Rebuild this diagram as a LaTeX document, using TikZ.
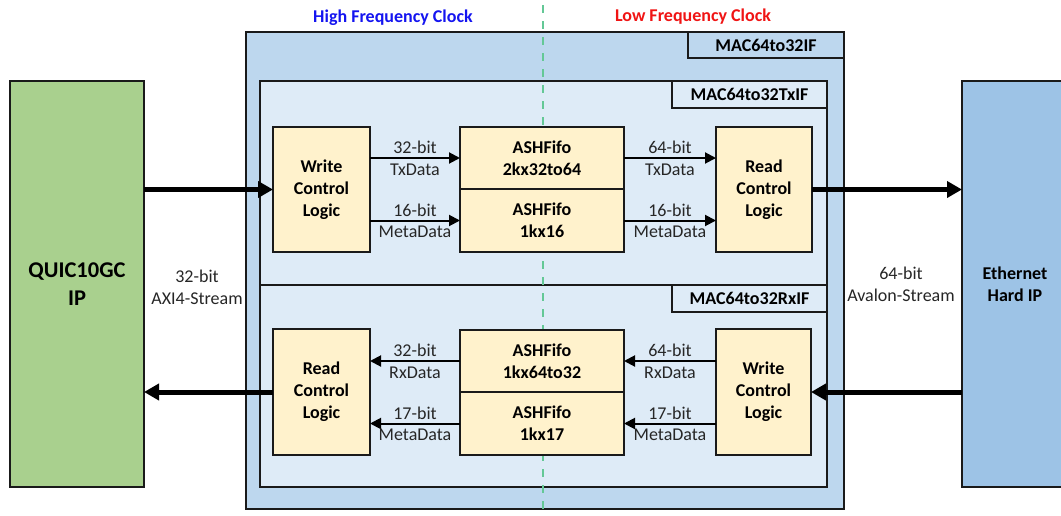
\documentclass[tikz,border=0pt]{standalone}
\usepackage{fontspec}
\setmainfont{Carlito}
\usetikzlibrary{arrows.meta}
\definecolor{macfill}{HTML}{BDD7EE}
\definecolor{subfill}{HTML}{DEEBF7}
\definecolor{logicfill}{HTML}{FFF2CC}
\definecolor{quicfill}{HTML}{A9D08E}
\definecolor{ethfill}{HTML}{9DC3E6}
\definecolor{edge}{HTML}{1A1A1A}
\definecolor{clkline}{RGB}{100,200,150}
\definecolor{hiblue}{HTML}{1414F0}
\definecolor{lored}{HTML}{F01414}
\definecolor{txt}{HTML}{262626}
\tikzset{
  blk/.style={draw=edge, line width=1.6pt, anchor=north west, inner sep=0pt, outer sep=0pt,
    text=black, font=\bfseries\fontsize{18}{22}\selectfont, align=center},
  sz/.style 2 args={minimum width=#1pt, minimum height=#2pt},
  macbox/.style={blk, fill=macfill},
  subbox/.style={blk, fill=subfill},
  logic/.style={blk, fill=logicfill},
  bigarrow/.style={draw=black, line width=5pt, -{Triangle[length=15pt,width=16pt]}},
  sigarrow/.style={draw=black, line width=2pt, -{Triangle[length=11pt,width=11pt]}},
  siglbl/.style={text=txt, font=\fontsize{18}{22}\selectfont, inner sep=0pt},
  uplbl/.style={siglbl, above=3pt},
  dnlbl/.style={siglbl, below=4.5pt},
  sidelbl/.style={text=txt, font=\fontsize{18}{22}\selectfont, align=center, inner sep=0pt},
  clk/.style={draw=clkline, line width=2pt, dash pattern=on 8pt off 8pt},
  title/.style={font=\bfseries\fontsize{18}{22}\selectfont, inner sep=0pt}
}
\begin{document}
\begin{tikzpicture}[x=1pt, y=-1pt]
\clip (0,0) rectangle (1061,515);
% external IPs
\node[blk, fill=quicfill, sz={134}{406}, font=\bfseries\fontsize{22.5}{28}\selectfont] (quic) at (10,81) {QUIC10GC\\IP};
\node[blk, fill=ethfill, sz={120}{406}] (eth) at (962,81) {};
\node[font=\bfseries\fontsize{18}{22}\selectfont, align=center, inner sep=0pt] (ethlbl) at (1015,284) {Ethernet\\Hard IP};
% containers
\node[macbox, sz={598}{477}] (mac) at (246,32) {};
\node[macbox, sz={156}{26}] (maclbl) at (688,32) {MAC64to32IF};
\node[subbox, sz={567}{204}] (txif) at (260,81) {};
\node[subbox, sz={567}{202}] (rxif) at (260,285) {};
\node[subbox, sz={155}{27}] (txlbl) at (672,81) {MAC64to32TxIF};
\node[subbox, sz={155}{27}] (rxlbl) at (672,285) {MAC64to32RxIF};
% clock domain boundary
\coordinate (clktop) at (543,5);
\coordinate (clkbot) at (543,515);
\draw[clk] (clktop) -- (clkbot);
\node[title, text=hiblue] (hf) at (393,18) {High Frequency Clock};
\node[title, text=lored] (lf) at (693,17) {Low Frequency Clock};
% Tx path
\node[logic, sz={97}{125}] (wtx) at (273,127) {Write\\Control\\Logic};
\node[logic, sz={164}{62}] (ftx1) at (460,127) {ASHFifo\\2kx32to64};
\node[logic, sz={164}{63}] (ftx2) at (460,189) {ASHFifo\\1kx16};
\node[logic, sz={96}{125}] (rtx) at (716,127) {Read\\Control\\Logic};
% Rx path
\node[logic, sz={97}{126}] (rrx) at (273,329) {Read\\Control\\Logic};
\node[logic, sz={164}{62}] (frx1) at (460,330) {ASHFifo\\1kx64to32};
\node[logic, sz={164}{63}] (frx2) at (460,392) {ASHFifo\\1kx17};
\node[logic, sz={95}{126}] (wrx) at (716,329) {Write\\Control\\Logic};
% Tx signals
\draw[sigarrow] (wtx.east |- ftx1.west) -- node[uplbl] {32-bit} node[dnlbl] {TxData} (ftx1.west);
\draw[sigarrow] (wtx.east |- ftx2.west) -- node[uplbl] {16-bit} node[dnlbl] {MetaData} (ftx2.west);
\draw[sigarrow] (ftx1.east) -- node[uplbl] {64-bit} node[dnlbl] {TxData} (rtx.west |- ftx1.east);
\draw[sigarrow] (ftx2.east) -- node[uplbl] {16-bit} node[dnlbl] {MetaData} (rtx.west |- ftx2.east);
% Rx signals
\draw[sigarrow] (frx1.west) -- node[uplbl] {32-bit} node[dnlbl] {RxData} (rrx.east |- frx1.west);
\draw[sigarrow] (frx2.west) -- node[uplbl] {17-bit} node[dnlbl] {MetaData} (rrx.east |- frx2.west);
\draw[sigarrow] (wrx.west |- frx1.east) -- node[uplbl] {64-bit} node[dnlbl] {RxData} (frx1.east);
\draw[sigarrow] (wrx.west |- frx2.east) -- node[uplbl] {17-bit} node[dnlbl] {MetaData} (frx2.east);
% external streams
\draw[bigarrow] (quic.east |- wtx.west) -- (wtx.west);
\draw[bigarrow] (rrx.west) -- (quic.east |- rrx.west);
\draw[bigarrow] (rtx.east) -- (eth.west |- rtx.east);
\draw[bigarrow] (eth.west |- wrx.east) -- (wrx.east);
\node[sidelbl] (axi) at (197,287) {32-bit\\AXI4-Stream};
\node[sidelbl] (ava) at (901,284) {64-bit\\Avalon-Stream};
\end{tikzpicture}
\end{document}
